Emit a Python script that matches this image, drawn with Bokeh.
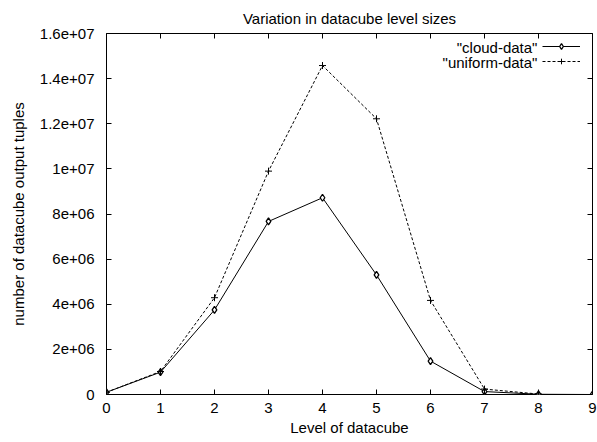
from bokeh.plotting import figure
from bokeh.models import (FixedTicker, LinearAxis, Range1d, Legend, LegendItem, Label,
                          CustomJSTickFormatter)
from bokeh.embed import file_html
from bokeh.resources import INLINE

# ---- data ----
levels_cloud = [0, 1, 2, 3, 4, 5, 6, 7, 8, 9]
cloud_data = [0.1e6, 0.99e6, 3.75e6, 7.67e6, 8.72e6, 5.3e6, 1.48e6, 0.13e6, 0.01e6, 0.0]
levels_uniform = [0, 1, 2, 3, 4, 5, 6, 7, 8]
uniform_data = [0.1e6, 1.02e6, 4.29e6, 9.90e6, 14.58e6, 12.22e6, 4.17e6, 0.24e6, 0.02e6]
x_ticks = [0, 1, 2, 3, 4, 5, 6, 7, 8, 9]
y_ticks = [0, 2e6, 4e6, 6e6, 8e6, 10e6, 12e6, 14e6, 16e6]
y_tick_labels = ["0", "2e+06", "4e+06", "6e+06", "8e+06", "1e+07", "1.2e+07", "1.4e+07", "1.6e+07"]
series_names = ['"cloud-data"', '"uniform-data"']

FONT = "Liberation Sans"
FS = "15px"

p = figure(width=597, height=442, output_backend="svg", toolbar_location=None,
           x_range=Range1d(0, 9), y_range=Range1d(0, 1.6e7),
           min_border_left=106, min_border_right=5, min_border_top=33, min_border_bottom=48,
           title="Variation in datacube level sizes")
p.title.align = "center"
p.title.text_font = FONT
p.title.text_font_size = FS
p.title.text_font_style = "normal"
p.title.text_color = "black"
p.title.offset = 0
p.title.standoff = 14

p.background_fill_color = "white"
p.border_fill_color = "white"
p.outline_line_color = "black"
p.outline_line_width = 1
p.xgrid.grid_line_color = None
p.ygrid.grid_line_color = None

for ax in p.xaxis:
    ax.ticker = FixedTicker(ticks=x_ticks)
    ax.axis_label = "Level of datacube"
for ax in p.yaxis:
    ax.ticker = FixedTicker(ticks=y_ticks)
    ax.major_label_overrides = {float(t): l for t, l in zip(y_ticks, y_tick_labels)}
    ax.axis_label = "number of datacube output tuples"

for ax in list(p.xaxis) + list(p.yaxis):
    ax.axis_line_color = None
    ax.major_tick_in = 5
    ax.major_tick_out = 0
    ax.major_tick_line_color = "black"
    ax.minor_tick_line_color = None
    ax.major_label_text_font = FONT
    ax.major_label_text_font_size = FS
    ax.major_label_text_color = "black"
    ax.axis_label_text_font = FONT
    ax.axis_label_text_font_size = FS
    ax.axis_label_text_font_style = "normal"
    ax.axis_label_text_color = "black"
p.xaxis.major_label_standoff = 8
p.xaxis.axis_label_standoff = 3
p.yaxis.major_label_standoff = 12
p.yaxis.axis_label_standoff = 10

# mirrored ticks (top / right), no labels
blank = CustomJSTickFormatter(code="return '';")
top = LinearAxis(ticker=FixedTicker(ticks=x_ticks), formatter=blank)
right = LinearAxis(ticker=FixedTicker(ticks=y_ticks), formatter=blank)
for ax in (top, right):
    ax.axis_line_color = None
    ax.major_tick_in = 5
    ax.major_tick_out = 0
    ax.major_tick_line_color = "black"
    ax.minor_tick_line_color = None
    ax.major_label_standoff = 0
p.add_layout(top, "above")
p.add_layout(right, "right")

# series
l1 = p.line(levels_cloud, cloud_data, line_color="black", line_width=1)
s1 = p.scatter(levels_cloud, cloud_data, marker="diamond", size=7,
               line_color="black", fill_color="white", line_width=1.3)
l2 = p.line(levels_uniform, uniform_data, line_color="black", line_width=1, line_dash="3 2")
s2 = p.scatter(levels_uniform, uniform_data, marker="cross", size=7,
               line_color="black", line_width=1)

legend = Legend(items=[LegendItem(label=" ", renderers=[l1, s1]),
                       LegendItem(label=" ", renderers=[l2, s2])],
                location=(436, 326), orientation="vertical",
                glyph_width=38, glyph_height=14, spacing=1, padding=0, margin=0,
                label_width=0, label_standoff=0,
                border_line_color=None, background_fill_alpha=0)
legend.label_text_font_size = FS
p.add_layout(legend, "center")

for i, name in enumerate(series_names):
    p.add_layout(Label(x=7.98, y=(15.38e6 - i * 0.66e6), text=name, text_align="right",
                       text_baseline="middle", text_font=FONT, text_font_size=FS,
                       text_color="black"))

open("out.html", "w").write(file_html(p, INLINE))
